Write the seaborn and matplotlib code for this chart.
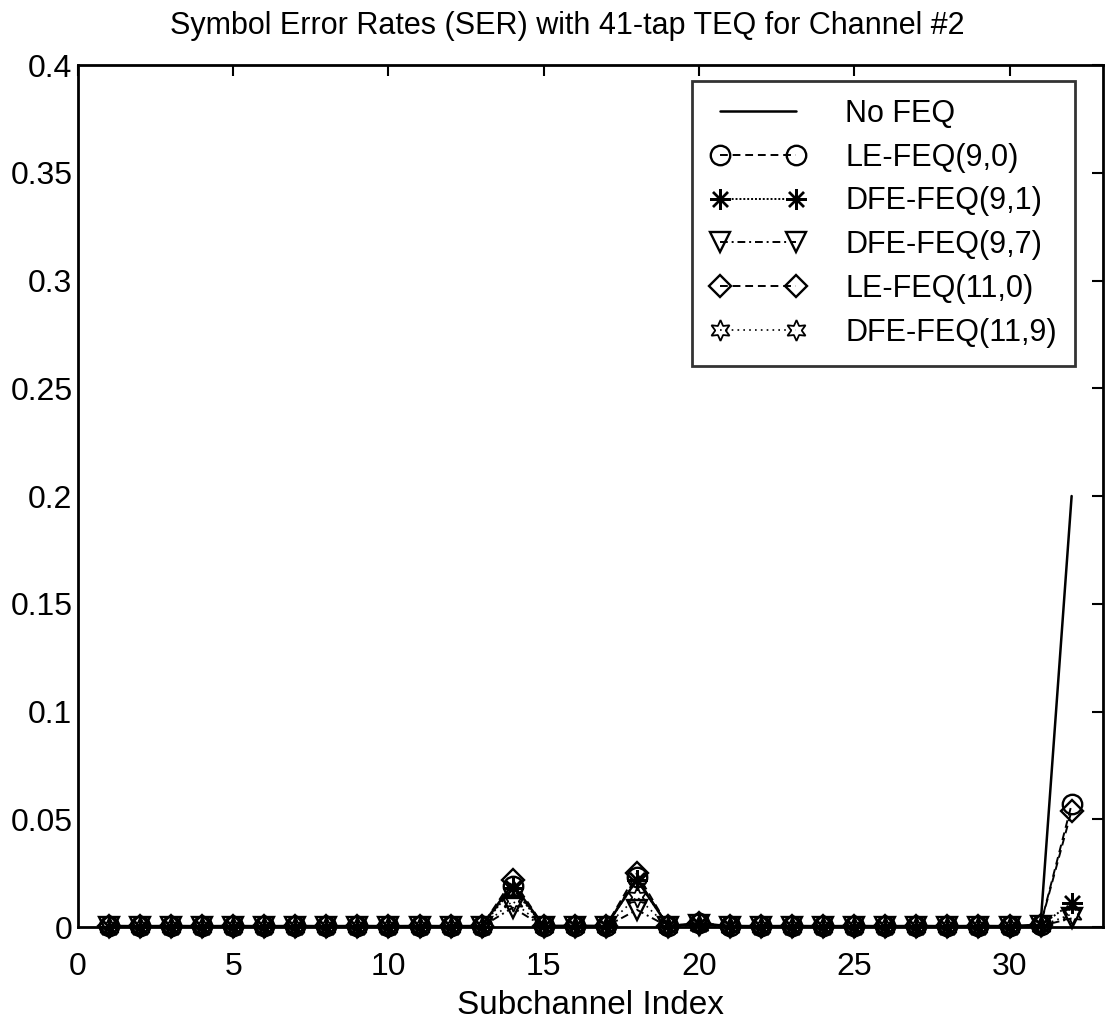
import matplotlib
matplotlib.use("Agg")
import matplotlib.pyplot as plt
import seaborn as sns

# Subchannel indices and symbol error rates for each equalizer configuration
subchannels = list(range(1, 33))

ser_no_feq = [0.0005, 0.0004, 0.0005, 0.0004, 0.0005, 0.0004, 0.0005, 0.0004,
              0.0005, 0.0004, 0.0005, 0.0004, 0.0005, 0.0200, 0.0005, 0.0006,
              0.0005, 0.0220, 0.0006, 0.0010, 0.0005, 0.0004, 0.0005, 0.0004,
              0.0005, 0.0004, 0.0005, 0.0004, 0.0005, 0.0004, 0.0010, 0.2000]
ser_le_9_0 = [0.0003, 0.0003, 0.0003, 0.0003, 0.0003, 0.0003, 0.0003, 0.0003,
              0.0003, 0.0003, 0.0003, 0.0003, 0.0003, 0.0190, 0.0004, 0.0005,
              0.0004, 0.0230, 0.0005, 0.0020, 0.0004, 0.0003, 0.0003, 0.0003,
              0.0003, 0.0003, 0.0003, 0.0003, 0.0003, 0.0003, 0.0010, 0.0570]
ser_dfe_9_1 = [0.0002, 0.0002, 0.0002, 0.0002, 0.0002, 0.0002, 0.0002, 0.0002,
               0.0002, 0.0002, 0.0002, 0.0002, 0.0002, 0.0180, 0.0003, 0.0004,
               0.0003, 0.0220, 0.0004, 0.0015, 0.0003, 0.0002, 0.0002, 0.0002,
               0.0002, 0.0002, 0.0002, 0.0002, 0.0002, 0.0002, 0.0008, 0.0110]
ser_dfe_9_7 = [0.0001, 0.0001, 0.0001, 0.0001, 0.0001, 0.0001, 0.0001, 0.0001,
               0.0001, 0.0001, 0.0001, 0.0001, 0.0001, 0.0090, 0.0002, 0.0002,
               0.0002, 0.0080, 0.0002, 0.0010, 0.0002, 0.0001, 0.0001, 0.0001,
               0.0001, 0.0001, 0.0001, 0.0001, 0.0001, 0.0001, 0.0005, 0.0040]
ser_le_11_0 = [0.0003, 0.0003, 0.0003, 0.0003, 0.0003, 0.0003, 0.0003, 0.0003,
               0.0003, 0.0003, 0.0003, 0.0003, 0.0003, 0.0220, 0.0004, 0.0005,
               0.0004, 0.0250, 0.0005, 0.0020, 0.0004, 0.0003, 0.0003, 0.0003,
               0.0003, 0.0003, 0.0003, 0.0003, 0.0003, 0.0003, 0.0010, 0.0540]
ser_dfe_11_9 = [0.0001, 0.0001, 0.0001, 0.0001, 0.0001, 0.0001, 0.0001, 0.0001,
                0.0001, 0.0001, 0.0001, 0.0001, 0.0001, 0.0120, 0.0002, 0.0002,
                0.0002, 0.0140, 0.0002, 0.0010, 0.0002, 0.0001, 0.0001, 0.0001,
                0.0001, 0.0001, 0.0001, 0.0001, 0.0001, 0.0001, 0.0005, 0.0060]

labels = ["No FEQ", "LE-FEQ(9,0)", "DFE-FEQ(9,1)", "DFE-FEQ(9,7)",
          "LE-FEQ(11,0)", "DFE-FEQ(11,9)"]

sns.set_theme(style="white")
plt.rcParams["font.family"] = ["Liberation Sans", "DejaVu Sans"]

fig = plt.figure(figsize=(11.06, 10.24), dpi=100)
ax = fig.add_axes([0.0705, 0.0947, 0.9265, 0.8418])

asterisk = (8, 2, 0)
hexagram = (6, 1, 0)
common = dict(color="black", markeredgecolor="black", markerfacecolor="none",
              clip_on=False)
styles = [
    dict(linestyle="-", marker=None, linewidth=1.8),
    dict(linestyle=(0, (4, 2.5)), marker="o", markersize=14, markeredgewidth=1.7, linewidth=1.4),
    dict(linestyle=(0, (1, 1)), marker=asterisk, markersize=15, markeredgewidth=1.7, linewidth=1.4),
    dict(linestyle=(0, (4, 2, 1, 2)), marker="v", markersize=14, markeredgewidth=1.7, linewidth=1.4),
    dict(linestyle=(0, (4, 2.5)), marker="D", markersize=11, markeredgewidth=1.7, linewidth=1.4),
    dict(linestyle=(0, (1, 2.5)), marker=hexagram, markersize=15, markeredgewidth=1.3, linewidth=1.2),
]
series = [ser_no_feq, ser_le_9_0, ser_dfe_9_1, ser_dfe_9_7, ser_le_11_0, ser_dfe_11_9]

for vals, lab, st in zip(series, labels, styles):
    sns.lineplot(x=subchannels, y=vals, ax=ax, label=lab, **common, **st)

ax.set_xlim(0, 33)
ax.set_ylim(0, 0.4)
ax.set_xticks([0, 5, 10, 15, 20, 25, 30])
ax.set_yticks([0, 0.05, 0.1, 0.15, 0.2, 0.25, 0.3, 0.35, 0.4])
ax.set_yticklabels(["0", "0.05", "0.1", "0.15", "0.2", "0.25", "0.3", "0.35", "0.4"])
ax.tick_params(direction="in", length=8, width=1.5, top=True, right=True,
               labelsize=23, colors="black")
ax.tick_params(axis="x", pad=18)
ax.tick_params(axis="y", pad=4)
for sp in ax.spines.values():
    sp.set_linewidth(2.0)
    sp.set_color("black")
    sp.set_visible(True)

ax.set_xlabel("Subchannel Index", fontsize=24, color="black", labelpad=6)
ax.set_title("Symbol Error Rates (SER) with 41-tap TEQ for Channel #2",
             fontsize=22, color="black", pad=22, x=0.477)

leg = ax.legend(loc="upper right", bbox_to_anchor=(0.973, 0.982), fontsize=22,
                frameon=True, fancybox=False, edgecolor="black", labelcolor="black",
                numpoints=2, handlelength=3.1, borderpad=0.6, labelspacing=0.45,
                handletextpad=1.3, borderaxespad=0)
leg.get_frame().set_linewidth(2.0)

fig.savefig("out.png", dpi=100, facecolor="white")
